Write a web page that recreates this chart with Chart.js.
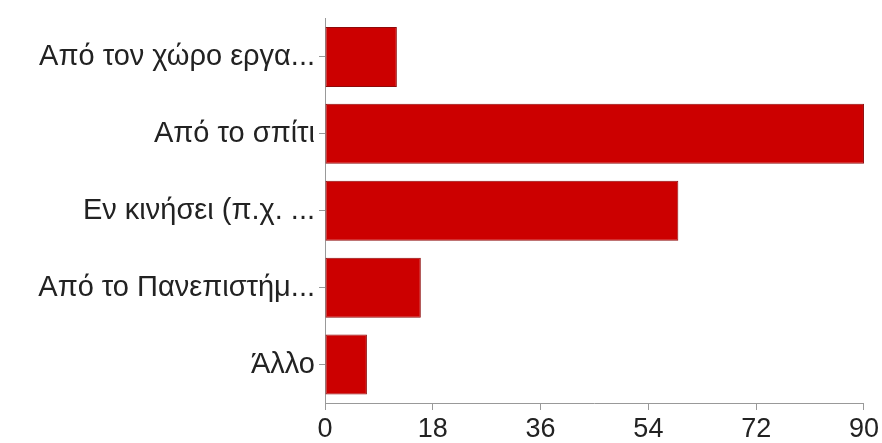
<!DOCTYPE html>
<html>
<head>
<meta charset="utf-8">
<script src="https://cdn.jsdelivr.net/npm/chart.js@4/dist/chart.umd.min.js"></script>
<style>
  html, body { margin: 0; padding: 0; background: #fff; }
  #wrap { width: 882px; height: 443px; }
</style>
</head>
<body>
<div id="wrap"><canvas id="answers"></canvas></div>
<script>
const categories = [
  'Από τον χώρο εργα...',
  'Από το σπίτι',
  'Εν κινήσει (π.χ. ...',
  'Από το Πανεπιστήμ...',
  'Άλλο'
];
const counts = [12, 90, 59, 16, 7];
const xTicks = [0, 18, 36, 54, 72, 90];

//////////

const ctx = document.getElementById('answers');

new Chart(ctx, {
  type: 'bar',
  data: {
    labels: categories,
    datasets: [
      {
        label: 'Απαντήσεις',
        data: counts,
        backgroundColor: '#cc0000',
        borderColor: '#8e0a0a',
        borderWidth: 1,
        borderSkipped: false,
        barPercentage: 0.78,
        categoryPercentage: 1,
      }
    ]
  },
  options: {
    indexAxis: 'y',
    responsive: true,
    maintainAspectRatio: false,
    animation: false,
    layout: { padding: { top: 16, right: 18, bottom: 0, left: 0 } },
    plugins: {
      legend: { display: false },
      tooltip: { enabled: false },
    },
    scales: {
      x: {
        min: 0,
        max: 90,
        afterBuildTicks: scale => {
          scale.ticks = xTicks.map(v => ({ value: v }));
        },
        afterFit: scale => { scale.height = 40; },
        grid: { drawOnChartArea: false, drawTicks: true, tickLength: 7, color: '#999' },
        border: { display: true, color: '#999' },
        ticks: {
          color: '#222',
          padding: 3,
          maxRotation: 0,
          font: { family: 'Liberation Sans, Arial, sans-serif', size: 27 },
        }
      },
      y: {
        afterFit: scale => { scale.width = 325; },
        grid: { drawOnChartArea: false, drawTicks: true, tickLength: 6, offset: false, color: '#999' },
        border: { display: true, color: '#999' },
        ticks: {
          color: '#222',
          padding: 4,
          font: { family: 'Liberation Sans, Arial, sans-serif', size: 29, lineHeight: 1 },
        }
      }
    }
  }
});
</script>
</body>
</html>
